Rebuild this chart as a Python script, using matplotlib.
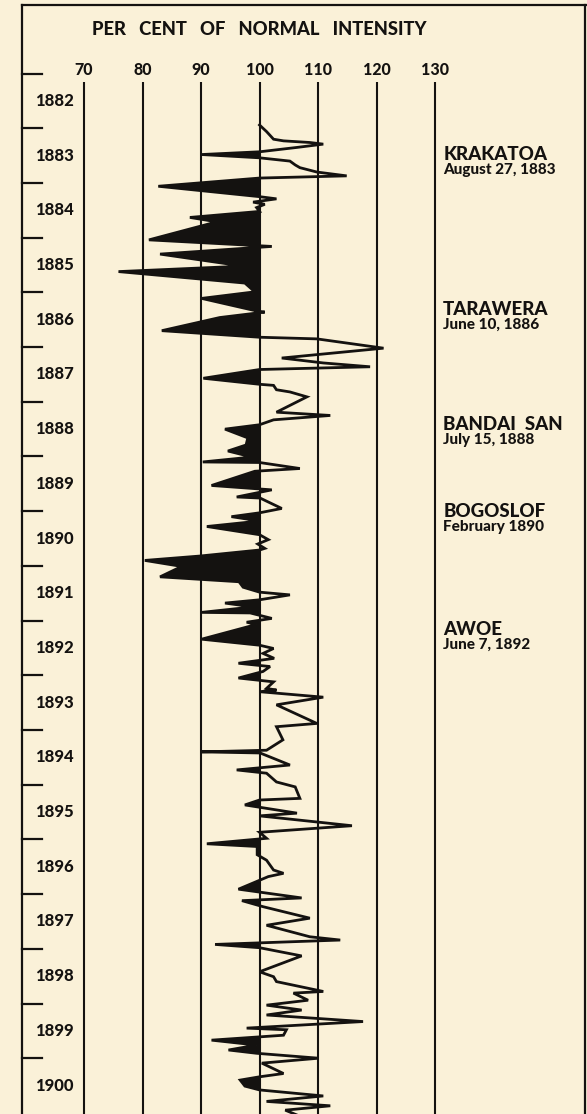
import matplotlib.pyplot as plt
import numpy as np

anos = [1882.94, 1883.06, 1883.20, 1883.23, 1883.26, 1883.29, 1883.35, 1883.43, 1883.48, 1883.54,
        1883.60, 1883.67, 1883.72, 1883.80, 1883.87, 1883.91, 1884.06, 1884.25, 1884.29, 1884.35,
        1884.39, 1884.45, 1884.52, 1884.63, 1884.71, 1885.04, 1885.14, 1885.16, 1885.30, 1885.52,
        1885.62, 1885.83, 1885.99, 1886.11, 1886.34, 1886.36, 1886.46, 1886.70, 1886.82, 1886.85,
        1887.02, 1887.20, 1887.29, 1887.36, 1887.41, 1887.57, 1887.68, 1887.70, 1887.78, 1887.82,
        1887.91, 1888.19, 1888.25, 1888.33, 1888.42, 1888.50, 1888.66, 1888.79, 1888.90, 1889.01,
        1889.10, 1889.11, 1889.22, 1889.27, 1889.53, 1889.61, 1889.74, 1889.76, 1889.95, 1890.03,
        1890.10, 1890.18, 1890.28, 1890.43, 1890.52, 1890.60, 1890.68, 1890.71, 1890.82, 1890.90,
        1891.01, 1891.20, 1891.29, 1891.39, 1891.48, 1891.53, 1891.62, 1891.68, 1891.75, 1891.85,
        1891.86, 1891.96, 1892.03, 1892.07, 1892.34, 1892.45, 1892.51, 1892.60, 1892.69, 1892.78,
        1892.84, 1892.93, 1893.05, 1893.12, 1893.24, 1893.27, 1893.30, 1893.40, 1893.54, 1893.88,
        1893.94, 1894.18, 1894.37, 1894.40, 1894.42, 1894.64, 1894.73, 1894.79, 1894.95, 1895.04,
        1895.25, 1895.28, 1895.37, 1895.52, 1895.57, 1895.75, 1895.87, 1895.98, 1896.08, 1896.13,
        1896.28, 1896.38, 1896.56, 1896.62, 1896.68, 1896.91, 1897.07, 1897.12, 1897.23, 1897.44,
        1897.57, 1897.78, 1897.84, 1897.92, 1897.98, 1898.13, 1898.42, 1898.51, 1898.60, 1898.78,
        1898.81, 1898.94, 1899.03, 1899.12, 1899.21, 1899.33, 1899.45, 1899.48, 1899.58, 1899.67,
        1899.76, 1899.85, 1899.91, 1900.00, 1900.09, 1900.28, 1900.34, 1900.40, 1900.51, 1900.58,
        1900.69, 1900.79, 1900.87, 1900.95, 1901.06]

intensidade = [100.0, 101.2, 102.4, 104.1, 108.6, 110.9, 106.4, 100.0, 90.1, 100.0,
               105.2, 106.1, 106.9, 109.8, 114.9, 100.0, 82.7, 100.0, 102.9, 98.9,
               100.9, 99.5, 100.0, 88.1, 92.7, 81.1, 98.9, 102.1, 83.0, 97.2,
               75.9, 97.5, 99.2, 90.1, 99.5, 100.9, 93.2, 83.3, 100.0, 109.8,
               121.2, 103.8, 110.9, 118.9, 100.0, 90.4, 100.0, 102.4, 102.9, 105.2,
               108.1, 102.9, 112.1, 102.4, 100.0, 94.1, 98.0, 97.7, 94.6, 98.7,
               90.3, 100.0, 106.9, 99.2, 91.8, 102.1, 96.1, 100.1, 103.8, 100.0,
               95.2, 100.0, 91.0, 100.0, 101.5, 99.7, 100.9, 100.0, 89.8, 80.4,
               86.7, 83.0, 96.5, 97.2, 100.0, 105.2, 100.0, 94.1, 98.9, 90.1,
               98.4, 102.1, 97.8, 99.5, 90.1, 100.0, 102.4, 100.6, 102.5, 96.4,
               101.8, 100.6, 96.4, 102.4, 101.2, 102.9, 100.0, 110.9, 102.9, 109.8,
               102.9, 104.0, 101.2, 90.1, 100.1, 105.2, 96.1, 101.2, 102.9, 106.1,
               106.9, 100.0, 97.5, 106.4, 100.0, 115.8, 100.0, 101.2, 91.0, 99.6,
               99.6, 101.2, 102.4, 104.1, 101.5, 96.4, 107.2, 97.0, 100.6, 108.6,
               101.2, 108.6, 113.8, 92.4, 100.0, 107.2, 100.0, 102.4, 102.9, 110.9,
               105.8, 108.3, 101.2, 107.2, 101.2, 117.7, 97.8, 104.6, 104.1, 91.8,
               99.5, 94.7, 99.5, 110.1, 100.4, 104.1, 100.0, 96.7, 97.5, 100.0,
               110.9, 101.2, 112.1, 104.4, 106.9]

escala = [70, 80, 90, 100, 110, 120, 130]
anos_rotulo = list(range(1882, 1901))

vulcoes = ['KRAKATOA', 'TARAWERA', 'BANDAI  SAN', 'BOGOSLOF', 'AWOE']
datas = ['August 27, 1883', 'June 10, 1886', 'July 15, 1888', 'February 1890', 'June 7, 1892']
pos_vulcoes = [1883.48, 1886.31, 1888.41, 1890.0, 1892.16]

fundo = '#FAF1D8'
tinta = '#141210'
fonte = ['Lato', 'DejaVu Sans']

t = np.array(anos)
v = np.array(intensidade)

fig = plt.figure(figsize=(5.87, 11.14), dpi=100, facecolor=fundo)
ax = fig.add_axes([0, 0, 1, 1])
ax.set_facecolor(fundo)
ax.set_xlim(55.64, 155.98)
ax.set_ylim(1901.02, 1880.655)
ax.axis('off')

# moldura
ax.plot([59.4, 59.4], [1880.746, 1901.1], color=tinta, lw=1.6)
ax.plot([59.4, 155.98], [1880.746, 1880.746], color=tinta, lw=1.6)
ax.plot([155.6, 155.6], [1880.746, 1901.1], color=tinta, lw=1.6)

# linhas verticais da escala
ax.vlines(escala, 1882.15, 1901.1, color=tinta, lw=1.5)

# marcas dos anos
for ano in anos_rotulo:
    ax.plot([59.4, 62.8], [ano, ano], color=tinta, lw=1.6)
    ax.text(64.9, ano + 0.5, str(ano), ha='center', va='center', fontsize=12,
            fontweight='black', family=fonte, color=tinta)

for val in escala:
    ax.text(val, 1881.93, str(val), ha='center', va='center', fontsize=11.5,
            fontweight='black', family=fonte, color=tinta)
ax.text(100, 1881.2, 'PER   CENT   OF   NORMAL   INTENSITY', ha='center', va='center',
        fontsize=13.2, fontweight='black', family=fonte, color=tinta)

# curva: abaixo de 100 preenchido em preto
ax.fill_betweenx(t, v, 100, where=v <= 100, interpolate=True, color=tinta, lw=0)
ax.plot(v, t, color=tinta, lw=2.0, solid_joinstyle='miter')

for nome, data, pos in zip(vulcoes, datas, pos_vulcoes):
    ax.text(131.4, pos, nome, ha='left', va='center', fontsize=13.5,
            fontweight='black', family=fonte, color=tinta)
    ax.text(131.4, pos + 0.29, data, ha='left', va='center', fontsize=11,
            fontweight='black', family=fonte, color=tinta)

fig.savefig('out.png', dpi=100, facecolor=fundo)
